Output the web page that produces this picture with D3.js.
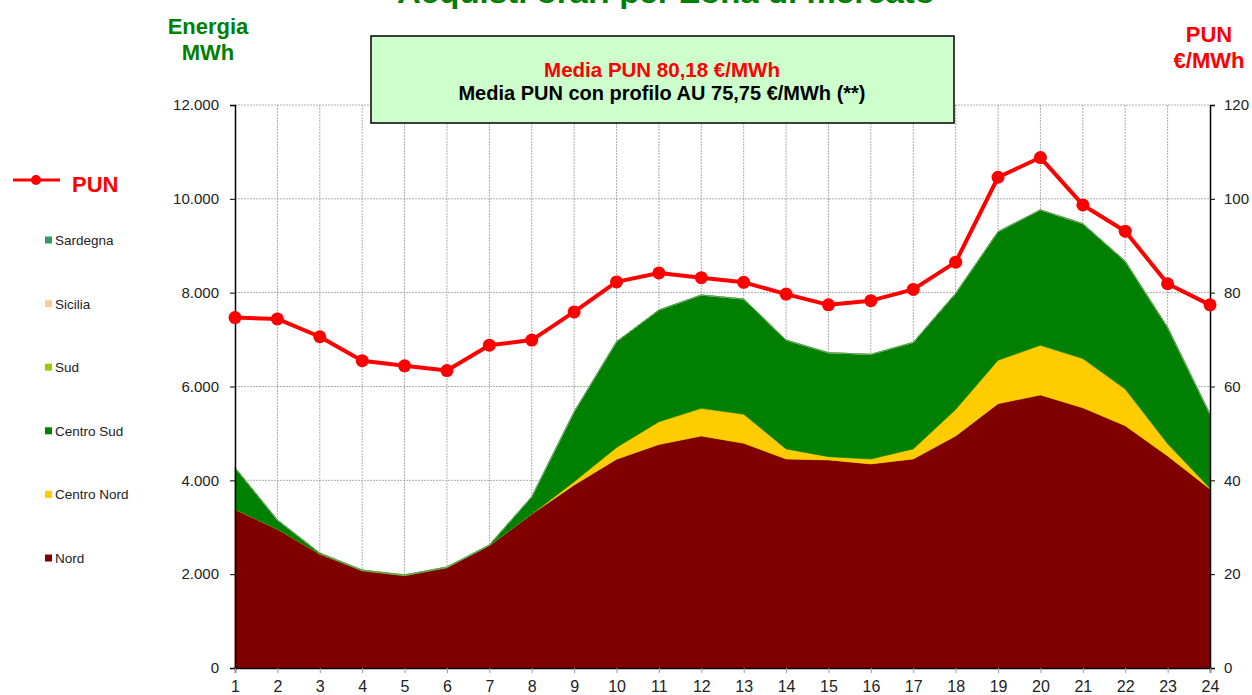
<!DOCTYPE html>
<html>
<head>
<meta charset="utf-8">
<script src="https://cdn.jsdelivr.net/npm/d3@7"></script>
<style>
  body { margin: 0; background: #fff; }
  svg { display: block; font-family: "Liberation Sans", Arial, sans-serif; }
  .narrow { font-family: "Liberation Sans Narrow", "Arial Narrow", "Liberation Sans", Arial, sans-serif; font-weight: bold; }
</style>
</head>
<body>
<div id="chart"></div>
<script>
'use strict';

// hours 1..24
const hours = d3.range(1, 25);

// MWh per zone
const nord = [3380, 2960, 2430, 2075, 1970, 2140, 2610, 3280, 3900, 4450, 4765, 4945,
    4790, 4455, 4435, 4350, 4455, 4945, 5635, 5820, 5545, 5165, 4520, 3815];
const centroNord = [0, 0, 0, 0, 0, 0, 0, 0, 70, 250, 485, 590,
    620, 215, 70, 105, 215, 565, 925, 1060, 1050, 780, 260, 15];
const centroSud = [890, 195, 20, 12, 12, 12, 12, 370, 1490, 2255, 2380, 2415,
    2455, 2320, 2215, 2230, 2270, 2475, 2740, 2885, 2875, 2725, 2480, 1580];
const sud = [0, 0, 0, 0, 0, 0, 0, 0, 0, 0, 0, 0, 0, 0, 0, 0, 0, 0, 0, 0, 0, 0, 0, 0];
const sicilia = [0, 0, 0, 0, 0, 0, 0, 0, 0, 0, 0, 0, 0, 0, 0, 0, 0, 0, 0, 0, 0, 0, 0, 0];
const sardegna = [0, 0, 0, 0, 0, 0, 0, 0, 0, 0, 0, 0, 0, 0, 0, 0, 0, 0, 0, 0, 0, 0, 0, 0];

// PUN €/MWh
const pun = [74.7, 74.4, 70.6, 65.5, 64.4, 63.4, 68.8, 69.9, 75.9, 82.3, 84.2, 83.2,
    82.2, 79.7, 77.4, 78.3, 80.7, 86.5, 104.6, 108.8, 98.7, 93.1, 81.9, 77.4];

const zoneNames = ['Nord', 'Centro Nord', 'Centro Sud', 'Sud', 'Sicilia', 'Sardegna'];
const zoneValues = [nord, centroNord, centroSud, sud, sicilia, sardegna];
const zoneColors = ['#800000', '#ffcc00', '#008000', '#99cc00', '#ffcc99', '#339966'];

const leftTicks = [0, 2000, 4000, 6000, 8000, 10000, 12000];
const rightTicks = [0, 20, 40, 60, 80, 100, 120];

const title = 'Acquisti orari per Zona di mercato';
const boxLine1 = 'Media PUN 80,18 €/MWh';
const boxLine2 = 'Media PUN con profilo AU 75,75 €/MWh (**)';

const W = 1252, H = 695;
const plot = {left: 235, right: 1210, top: 105, bottom: 668};

const it = d3.formatLocale({decimal: ',', thousands: '.', grouping: [3], currency: ['€', '']});
const fmt = it.format(',d');

const svg = d3.select('#chart').append('svg')
    .attr('width', W)
    .attr('height', H)
    .attr('viewBox', [0, 0, W, H]);

const x = d3.scaleLinear().domain([1, 24]).range([plot.left, plot.right]);
const y = d3.scaleLinear().domain([0, 12000]).range([plot.bottom, plot.top]);
const y2 = d3.scaleLinear().domain([0, 120]).range([plot.bottom, plot.top]);

// grid
const grid = svg.append('g')
    .attr('stroke', '#999')
    .attr('stroke-width', 0.8)
    .attr('stroke-dasharray', '2,1');
grid.selectAll('line.h')
    .data(leftTicks.slice(1))
    .join('line')
        .attr('class', 'h')
        .attr('x1', plot.left).attr('x2', plot.right)
        .attr('y1', d => y(d)).attr('y2', d => y(d));
grid.selectAll('line.v')
    .data(hours.slice(1, -1))
    .join('line')
        .attr('class', 'v')
        .attr('x1', d => x(d)).attr('x2', d => x(d))
        .attr('y1', plot.top).attr('y2', plot.bottom);

// stacked areas
const table = hours.map((h, i) => {
    const row = {hour: h};
    zoneNames.forEach((z, k) => { row[z] = zoneValues[k][i]; });
    return row;
});
const stacked = d3.stack().keys(zoneNames)(table);

svg.append('g')
    .selectAll('path')
    .data(stacked)
    .join('path')
        .attr('fill', (d, i) => zoneColors[i])
        .attr('stroke', (d, i) => zoneColors[i])
        .attr('stroke-width', 0.6)
        .attr('d', d3.area()
            .x(d => x(d.data.hour))
            .y0(d => y(d[0]))
            .y1(d => y(d[1])));

// axes
const tickFont = g => g.selectAll('text')
    .attr('fill', '#222')
    .style('font-family', '"Liberation Sans", Arial, sans-serif');

svg.append('g')
    .attr('transform', `translate(${plot.left},0)`)
    .call(d3.axisLeft(y).tickValues(leftTicks).tickFormat(fmt).tickSize(5).tickPadding(11))
    .call(g => g.select('.domain').attr('stroke', '#000').attr('stroke-width', 1.5))
    .call(g => g.selectAll('.tick line').attr('stroke', '#000'))
    .call(g => g.selectAll('text').style('font-size', '15px'))
    .call(tickFont);

svg.append('g')
    .attr('transform', `translate(${plot.right},0)`)
    .call(d3.axisRight(y2).tickValues(rightTicks).tickSize(5).tickPadding(9))
    .call(g => g.select('.domain').attr('stroke', '#000').attr('stroke-width', 1.5))
    .call(g => g.selectAll('.tick line').attr('stroke', '#000'))
    .call(g => g.selectAll('text').style('font-size', '15px'))
    .call(tickFont);

svg.append('g')
    .attr('transform', `translate(0,${plot.bottom})`)
    .call(d3.axisBottom(x).tickValues(hours).tickFormat(d3.format('d')).tickSize(5).tickPadding(8))
    .call(g => g.select('.domain').attr('stroke', '#000').attr('stroke-width', 1.5))
    .call(g => g.selectAll('.tick line').attr('stroke', '#999'))
    .call(g => g.selectAll('text').style('font-size', '16px'))
    .call(tickFont);

// PUN line
svg.append('path')
    .datum(pun)
    .attr('fill', 'none')
    .attr('stroke', '#ff0000')
    .attr('stroke-width', 4)
    .attr('stroke-linejoin', 'round')
    .attr('d', d3.line()
        .x((d, i) => x(hours[i]))
        .y(d => y2(d)));
svg.append('g')
    .selectAll('circle')
    .data(pun)
    .join('circle')
        .attr('cx', (d, i) => x(hours[i]))
        .attr('cy', d => y2(d))
        .attr('r', 6.5)
        .attr('fill', '#ff0000');

// title (cut off at the top edge)
svg.append('text')
    .attr('class', 'narrow')
    .attr('x', 666).attr('y', 3)
    .attr('text-anchor', 'middle')
    .attr('fill', '#008000')
    .style('font-size', '30px')
    .attr('textLength', 538)
    .attr('lengthAdjust', 'spacingAndGlyphs')
    .text(title);

// axis titles
svg.append('text')
    .attr('class', 'narrow')
    .attr('text-anchor', 'middle')
    .attr('fill', '#008000')
    .style('font-size', '22px')
    .selectAll('tspan')
    .data(['Energia', 'MWh'])
    .join('tspan')
        .attr('x', 208)
        .attr('y', (d, i) => 34 + i * 26)
        .text(d => d);

svg.append('text')
    .attr('class', 'narrow')
    .attr('text-anchor', 'middle')
    .attr('fill', '#ff0000')
    .style('font-size', '22px')
    .selectAll('tspan')
    .data(['PUN', '€/MWh'])
    .join('tspan')
        .attr('x', 1209)
        .attr('y', (d, i) => 42 + i * 26)
        .text(d => d);

// info box
svg.append('rect')
    .attr('x', 371).attr('y', 36)
    .attr('width', 583).attr('height', 87)
    .attr('fill', '#ccffcc')
    .attr('stroke', '#000')
    .attr('stroke-width', 1.5);
svg.append('text')
    .attr('class', 'narrow')
    .attr('x', 662).attr('y', 77)
    .attr('text-anchor', 'middle')
    .attr('fill', '#ff0000')
    .style('font-size', '20.5px')
    .text(boxLine1);
svg.append('text')
    .attr('class', 'narrow')
    .attr('x', 662).attr('y', 100)
    .attr('text-anchor', 'middle')
    .attr('fill', '#000')
    .style('font-size', '20px')
    .text(boxLine2);

// legend
const legend = svg.append('g');
legend.append('line')
    .attr('x1', 13).attr('x2', 60)
    .attr('y1', 180).attr('y2', 180)
    .attr('stroke', '#ff0000')
    .attr('stroke-width', 3);
legend.append('circle')
    .attr('cx', 36).attr('cy', 180).attr('r', 5)
    .attr('fill', '#ff0000');
legend.append('text')
    .attr('class', 'narrow')
    .attr('x', 72).attr('y', 192)
    .attr('fill', '#ff0000')
    .style('font-size', '22px')
    .text('PUN');

const legendOrder = zoneNames.map((z, i) => ({name: z, color: zoneColors[i]})).reverse();
const items = legend.selectAll('g.item')
    .data(legendOrder)
    .join('g')
        .attr('class', 'item')
        .attr('transform', (d, i) => `translate(45,${240 + i * 63.6})`);
items.append('rect')
    .attr('x', 0).attr('y', -3.5)
    .attr('width', 7).attr('height', 7)
    .attr('fill', d => d.color);
items.append('text')
    .attr('x', 10).attr('y', 5)
    .attr('fill', '#222')
    .style('font-size', '13.5px')
    .text(d => d.name);
</script>
</body>
</html>
